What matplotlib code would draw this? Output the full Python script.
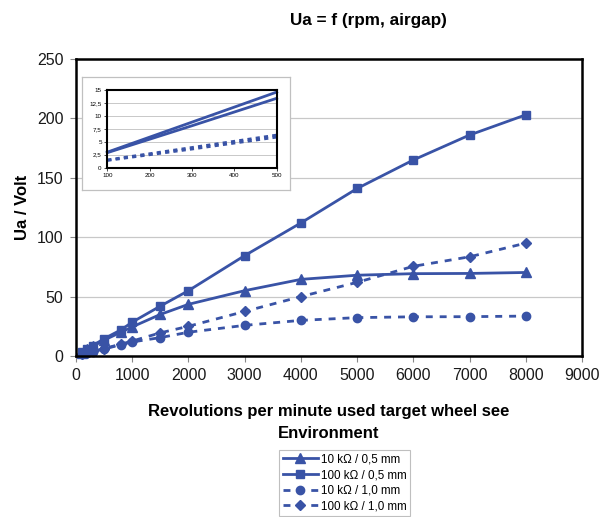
import matplotlib
matplotlib.use("Agg")
import matplotlib.pyplot as plt

plt.rcParams['font.family'] = ['Liberation Sans', 'DejaVu Sans']

# Data
rpm = [100, 200, 300, 500, 800, 1000, 1500, 2000, 3000, 4000, 5000, 6000, 7000, 8000]
ua_10k_05 = [2.9, 5.5, 8.1, 13.4, 20, 24.5, 35, 43.5, 55, 64.5, 68, 69.3, 69.5, 70.3]
ua_100k_05 = [3.0, 5.9, 8.8, 14.6, 22, 28.5, 42, 55, 84.5, 112, 141, 165, 186, 203]
ua_10k_10 = [1.4, 2.5, 3.6, 5.9, 9.5, 11.8, 15.5, 20, 25.8, 30, 32.3, 33, 33.1, 33.6]
ua_100k_10 = [1.5, 2.7, 3.9, 6.3, 10, 12.6, 19.5, 25, 37.5, 50, 62, 75.5, 83.5, 95]
labels = ['10 k\u03a9 / 0,5 mm', '100 k\u03a9 / 0,5 mm', '10 k\u03a9 / 1,0 mm', '100 k\u03a9 / 1,0 mm']

inset_x = [100, 200, 300, 500]
inset_ticks = [0, 2.5, 5, 7.5, 10, 12.5, 15]

blue = '#3953a6'
W, H = 600, 517

fig = plt.figure(figsize=(6, 5.17), dpi=100)
ax = fig.add_axes([76 / W, 1 - 356 / H, (582 - 76) / W, (356 - 59) / H])

series = [ua_10k_05, ua_100k_05, ua_10k_10, ua_100k_10]
markers = ['^', 's', 'o', 'D']
styles = ['-', '-', '--', '--']
msizes = [6.5, 6, 6, 4.8]
for ys, m, ls, ms, lab in zip(series, markers, styles, msizes, labels):
    ax.plot(rpm, ys, color=blue, marker=m, ls=ls, lw=2, ms=ms, label=lab,
            dashes=(2.5, 2.5) if ls == '--' else (None, None), clip_on=False)

ax.set_xlim(0, 9000)
ax.set_ylim(0, 250)
ax.set_xticks(range(0, 9001, 1000))
ax.set_yticks(range(0, 251, 50))
ax.yaxis.grid(True, color='#c8c8c8', lw=0.9)
ax.set_axisbelow(True)
ax.tick_params(labelsize=11.5, length=4, width=0.8, colors='#888888',
               labelcolor='#1a1a1a', pad=5)
for s in ax.spines.values():
    s.set_linewidth(1.8)
ax.set_xlabel('Revolutions per minute used target wheel see\nEnvironment',
              fontsize=12, fontweight='bold', labelpad=15, linespacing=1.55)
ax.set_ylabel('Ua / Volt', fontsize=12, fontweight='bold', labelpad=5)
fig.text(368 / W, 1 - 20 / H, 'Ua = f (rpm, airgap)', fontsize=12.3,
         fontweight='bold', ha='center', va='center')

# inset background box
bg = fig.add_axes([82 / W, 1 - 190 / H, (290 - 82) / W, (190 - 77) / H])
bg.set_xticks([])
bg.set_yticks([])
for s in bg.spines.values():
    s.set_color('#c0c0c0')
    s.set_linewidth(0.9)

ins = fig.add_axes([107.3 / W, 1 - 167.7 / H, (276.7 - 107.3) / W, (167.7 - 90) / H])
for ys, ls in zip(series, styles):
    ins.plot(inset_x, ys[:4], color=blue, ls=ls, lw=2,
             dashes=(1.5, 1.5) if ls == '--' else (None, None), clip_on=False)
ins.set_xlim(100, 500)
ins.set_ylim(0, 15)
ins.set_xticks([100, 200, 300, 400, 500])
ins.set_yticks(inset_ticks)
ins.set_yticklabels([f'{t:g}'.replace('.', ',') for t in inset_ticks])
ins.yaxis.grid(True, color='#c8c8c8', lw=0.7)
ins.set_axisbelow(True)
ins.tick_params(labelsize=4.5, length=2, width=0.5, pad=2)
for s in ins.spines.values():
    s.set_linewidth(1.5)

leg = fig.legend(loc='lower left', bbox_to_anchor=(279 / W, 1 / H), fontsize=8.4,
                 handlelength=3.0, frameon=True, fancybox=False, borderpad=0.3,
                 labelspacing=0.32, handletextpad=0.3, borderaxespad=0)
leg.get_frame().set_edgecolor('#b0b0b0')
leg.get_frame().set_linewidth(0.8)

fig.savefig('out.png', dpi=100)
